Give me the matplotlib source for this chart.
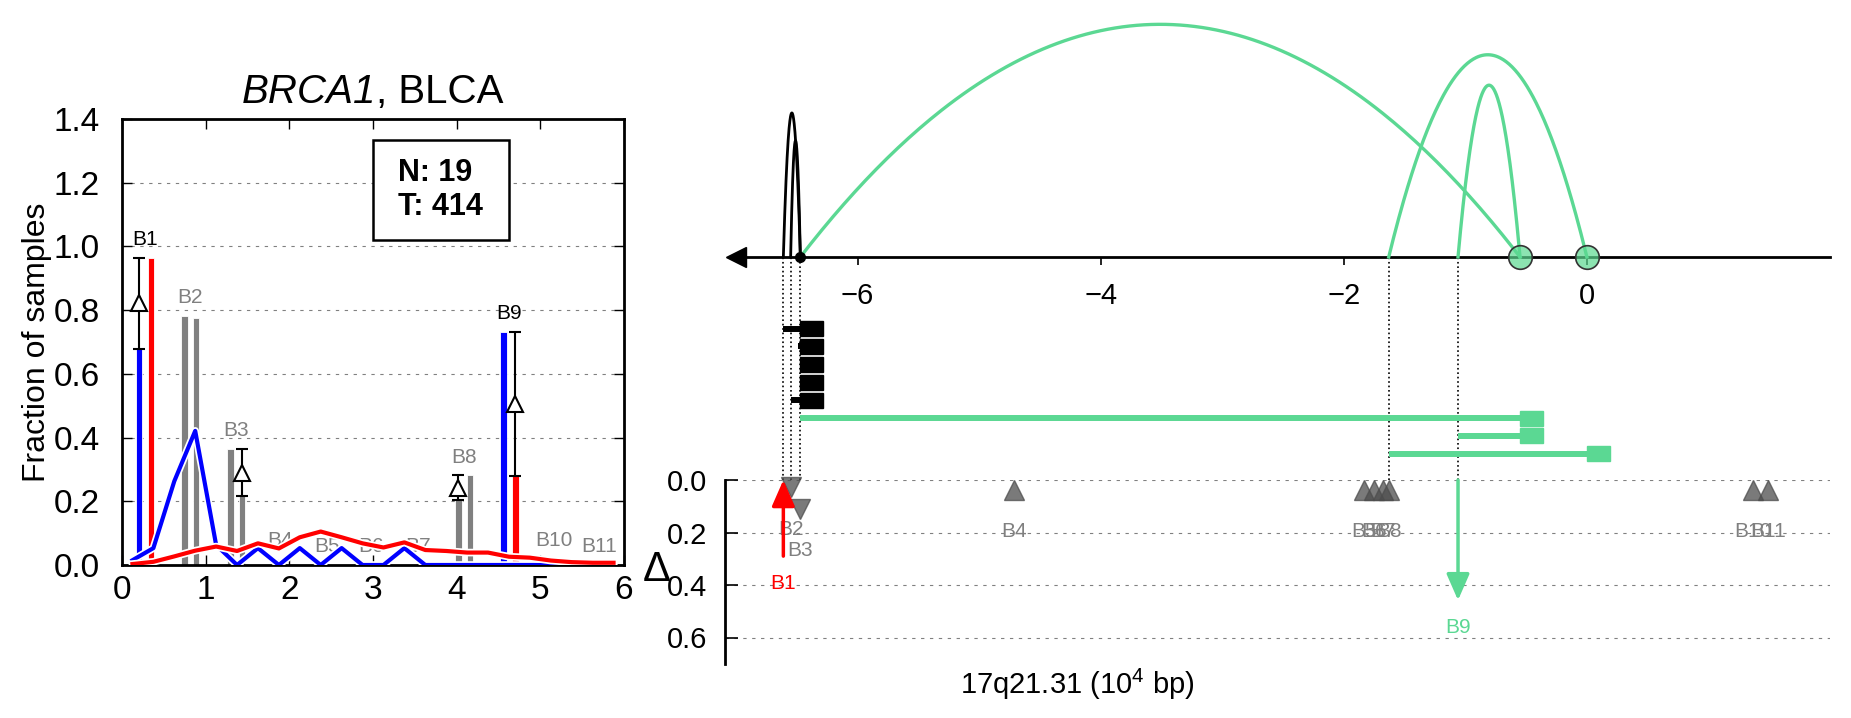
import numpy as np
from matplotlib import pyplot as plt
from matplotlib.patches import Rectangle
from matplotlib.offsetbox import TextArea, HPacker, AnchoredOffsetbox
import matplotlib.patheffects as pe

plt.rcParams['font.family'] = ['Liberation Sans', 'DejaVu Sans']
plt.rcParams['mathtext.fontset'] = 'custom'
plt.rcParams['mathtext.rm'] = 'Liberation Sans'
plt.rcParams['mathtext.it'] = 'Liberation Sans:italic'

GREEN = '#5bd893'
GREY = '#808080'

# ---------------- left panel data ----------------
bp_names = ['B1', 'B2', 'B3', 'B4', 'B5', 'B6', 'B7', 'B8', 'B9', 'B10', 'B11']
bp_pos = [0.275, 0.815, 1.366, 1.89, 2.45, 2.98, 3.54, 4.09, 4.63, 5.16, 5.70]
frac_normal = [0.679, 0.782, 0.363, 0.020, 0.0, 0.0, 0.0, 0.203, 0.732, 0.018, 0.0]
frac_tumor = [0.963, 0.774, 0.216, 0.0, 0.0, 0.0, 0.0, 0.281, 0.279, 0.0, 0.0]
bp_signif = [True, False, False, False, False, False, False, False, True, False, False]
bp_delta = [True, False, True, False, False, False, False, True, True, False, False]

dens_x = [0.125, 0.375, 0.625, 0.875, 1.125, 1.375, 1.625, 1.875, 2.125, 2.375,
          2.625, 2.875, 3.125, 3.375, 3.625, 3.875, 4.125, 4.375, 4.625, 4.875,
          5.125, 5.375, 5.625, 5.875]
dens_normal = [0.015, 0.053, 0.263, 0.421, 0.063, 0.0, 0.053, 0.0, 0.053, 0.0,
               0.053, 0.0, 0.0, 0.053, 0.0, 0.0, 0.0, 0.0, 0.0, 0.0,
               0.0, 0.0, 0.0, 0.0]
dens_tumor = [0.003, 0.010, 0.027, 0.045, 0.058, 0.044, 0.068, 0.052, 0.087, 0.105,
              0.087, 0.068, 0.055, 0.071, 0.047, 0.044, 0.039, 0.039, 0.026, 0.023,
              0.014, 0.009, 0.007, 0.007]

n_normal = 19
n_tumor = 414
left_xticks = [0, 1, 2, 3, 4, 5, 6]
left_yticks = [0.0, 0.2, 0.4, 0.6, 0.8, 1.0, 1.2, 1.4]

# ---------------- right panel data ----------------
# arcs: start, end, height
arc_start = [-6.61, -6.55, -6.47, -1.63, -1.06]
arc_end = [-6.47, -6.47, -0.55, 0.0, -0.55]
arc_height = [8.05, 6.5, 13.0, 11.3, 9.6]
arc_color = ['k', 'k', GREEN, GREEN, GREEN]

# rearranged segments (one per row)
seg_row = [-4, -5, -6, -7, -8, -9, -10, -11]
seg_start = [-6.61, -6.49, -6.47, -6.47, -6.55, -6.47, -1.06, -1.63]
seg_end = [-6.47, -6.47, -6.47, -6.47, -6.47, -0.55, -0.55, 0.0]
seg_color = ['k', 'k', 'k', 'k', 'k', GREEN, GREEN, GREEN]

anchor_x = [-0.55, 0.0]
origin_x = -6.47
link_x = [-6.61, -6.55, -6.47, -1.63, -1.06]
genome_xticks = [-6, -4, -2, 0]

# delta panel
tri_names = ['B2', 'B3', 'B4', 'B5', 'B6', 'B7', 'B8', 'B10', 'B11']
tri_x = [-6.55, -6.47, -4.71, -1.83, -1.75, -1.68, -1.63, 1.37, 1.49]
tri_delta = [0.027, 0.11, 0.037, 0.037, 0.037, 0.037, 0.037, 0.037, 0.037]
tri_marker = ['v', 'v', '^', '^', '^', '^', '^', '^', '^']

arr_names = ['B1', 'B9']
arr_x = [-6.61, -1.06]
arr_from = [0.29, 0.0]
arr_to = [0.0, 0.458]
arr_color = ['red', GREEN]
delta_yticks = [0.0, 0.2, 0.4, 0.6]

W, H = 1851, 718
fig = plt.figure(figsize=(W / 100, H / 100), dpi=100)

# ================= left panel =================
ax1 = fig.add_axes([122 / W, (H - 565) / H, 502 / W, 446 / H])
for name, pos, a, b, sig in zip(bp_names, bp_pos, frac_normal, frac_tumor, bp_signif):
    cols = ['blue', 'red'] if sig else [GREY, GREY]
    ax1.bar([pos - 0.07, pos + 0.07], [a, b], width=0.08, color=cols,
            edgecolor='white', linewidth=0.6, zorder=2)
    ax1.text(pos, max(a, b) + 0.058, name, ha='center', va='center', fontsize=15,
             color='k' if sig else GREY, zorder=2.5)

stroke = [pe.Stroke(linewidth=5.5, foreground='white'), pe.Normal()]
ax1.plot(dens_x, dens_normal, color='blue', lw=3, zorder=3, path_effects=stroke)
ax1.plot(dens_x, dens_tumor, color='red', lw=3, zorder=3, path_effects=stroke)

for pos, a, b, d in zip(bp_pos, frac_normal, frac_tumor, bp_delta):
    if not d:
        continue
    x = pos - 0.07 if a < b else pos + 0.07
    lo, hi = min(a, b), max(a, b)
    ax1.errorbar([x], [(lo + hi) / 2], yerr=[(hi - lo) / 2], fmt='^', ms=12,
                 mfc='white', mec='k', mew=1.5, ecolor='k', elinewidth=1.5,
                 capsize=4, capthick=1.5, zorder=4)

# sample-count box
ax1.add_patch(Rectangle((0.5, 0.7287), 0.271, 0.224, transform=ax1.transAxes,
                        fc='white', ec='k', lw=1.8, zorder=6))
ax1.text(0.635, 0.841, 'N: %d\nT: %d' % (n_normal, n_tumor), transform=ax1.transAxes,
         ha='center', va='center', ma='left', fontsize=22, fontweight='bold',
         linespacing=1.15, zorder=7)

ax1.set_xlim(0, 6)
ax1.set_ylim(0, 1.4)
ax1.set_xticks(left_xticks)
ax1.set_yticks(left_yticks)
ax1.set_yticklabels(['%.1f' % t for t in left_yticks])
ax1.tick_params(direction='in', top=True, right=True, length=7, width=1, labelsize=24)
ax1.tick_params(axis='x', pad=7)
ax1.tick_params(axis='y', pad=16)
ax1.yaxis.grid(True, color='gray', linestyle=(0, (3, 5)), lw=0.8)
for s in ax1.spines.values():
    s.set_linewidth(2)
ax1.set_ylabel('Fraction of samples', fontsize=23, labelpad=1)

# title: gene name in italics followed by the cancer type
title_box = HPacker(children=[TextArea('BRCA1', textprops=dict(fontsize=29, style='italic')),
                              TextArea(', BLCA', textprops=dict(fontsize=29))],
                    align='baseline', pad=0, sep=0)
ax1.add_artist(AnchoredOffsetbox(loc='lower center', child=title_box, pad=0, borderpad=0,
                                 frameon=False, bbox_to_anchor=(0.5, 1.018),
                                 bbox_transform=ax1.transAxes))

# ================= right panel: genome track =================
x0, x1 = -7.09, 2.0
ax2 = fig.add_axes([725 / W, (H - 480) / H, 1105 / W, 475 / H])
ax2.set_xlim(x0, x1)
ax2.set_ylim(-12.46, 14.08)
for s in ['top', 'right', 'left']:
    ax2.spines[s].set_visible(False)
ax2.spines['bottom'].set_position(('data', 0))
ax2.spines['bottom'].set_bounds(-7.0, x1)
ax2.spines['bottom'].set_linewidth(2)
ax2.set_yticks([])
ax2.set_xticks(genome_xticks)
ax2.tick_params(axis='x', direction='out', length=6, width=1.2, labelsize=21, pad=12)
ax2.plot([-7.0], [0], marker='<', ms=14, color='k', clip_on=False, zorder=5)

for s, e, h, c in zip(arc_start, arc_end, arc_height, arc_color):
    xs = np.linspace(s, e, 200)
    mid, r = (s + e) / 2, (e - s) / 2
    ax2.plot(xs, h * (1 - ((xs - mid) / r) ** 2), color=c,
             lw=2.0 if c == 'k' else 2.4, zorder=3)

ax2.vlines(link_x, -12.46, 0, colors='k', linestyles=':', lw=1.2, zorder=1)

for y, s, e, c in zip(seg_row, seg_start, seg_end, seg_color):
    ax2.hlines(y, s, e, colors=c, lw=4.3, zorder=3)
    ax2.add_patch(Rectangle((e, y - 0.42), 0.19, 0.84, color=c, zorder=3))

ax2.plot(anchor_x, [0] * len(anchor_x), 'o', ms=17, mfc=(0.36, 0.85, 0.57, 0.7),
         mec='#333333', mew=1.2, zorder=5)
ax2.plot([origin_x], [0], 'o', ms=7, color='k', zorder=5)

# ================= right panel: delta track =================
ax3 = fig.add_axes([725 / W, (H - 663.75) / H, 1105 / W, 183.75 / H])
ax3.set_xlim(x0, x1)
ax3.set_ylim(0.7, 0)
for s in ['top', 'right', 'bottom']:
    ax3.spines[s].set_visible(False)
ax3.spines['left'].set_linewidth(2)
ax3.set_xticks([])
ax3.set_yticks(delta_yticks)
ax3.set_yticklabels(['%.1f' % t for t in delta_yticks])
ax3.tick_params(axis='y', direction='in', length=9, width=1.2, labelsize=21, pad=13)
ax3.yaxis.grid(True, color='gray', linestyle=(0, (3, 5)), lw=0.8)

for name, x, d, m in zip(tri_names, tri_x, tri_delta, tri_marker):
    ax3.plot([x], [d], marker=m, ms=14, ls='none', color='#4d4d4d', alpha=0.75,
             clip_on=False, zorder=4)
    ax3.text(x, d + 0.16, name, ha='center', va='center', fontsize=15, color=GREY)

for name, x, a, b, c in zip(arr_names, arr_x, arr_from, arr_to, arr_color):
    ax3.annotate('', xy=(x, b), xytext=(x, a),
                 arrowprops=dict(arrowstyle='-|>,head_length=0.8,head_width=0.35',
                                 color=c, lw=2.5, shrinkA=0, shrinkB=0,
                                 mutation_scale=20), zorder=5)
    ax3.text(x, max(a, b) + 0.105, name, ha='center', va='center', fontsize=15, color=c)

ax3.set_ylabel('Δ', fontsize=30, rotation=0, ha='center', va='center')
ax3.yaxis.set_label_coords(-0.062, 0.51)
ax3.set_xlabel('17q21.31 ($10^4$ bp)', fontsize=21, va='center')
ax3.xaxis.set_label_coords(0.3186, -0.115)

fig.savefig('out.png', dpi=100)
